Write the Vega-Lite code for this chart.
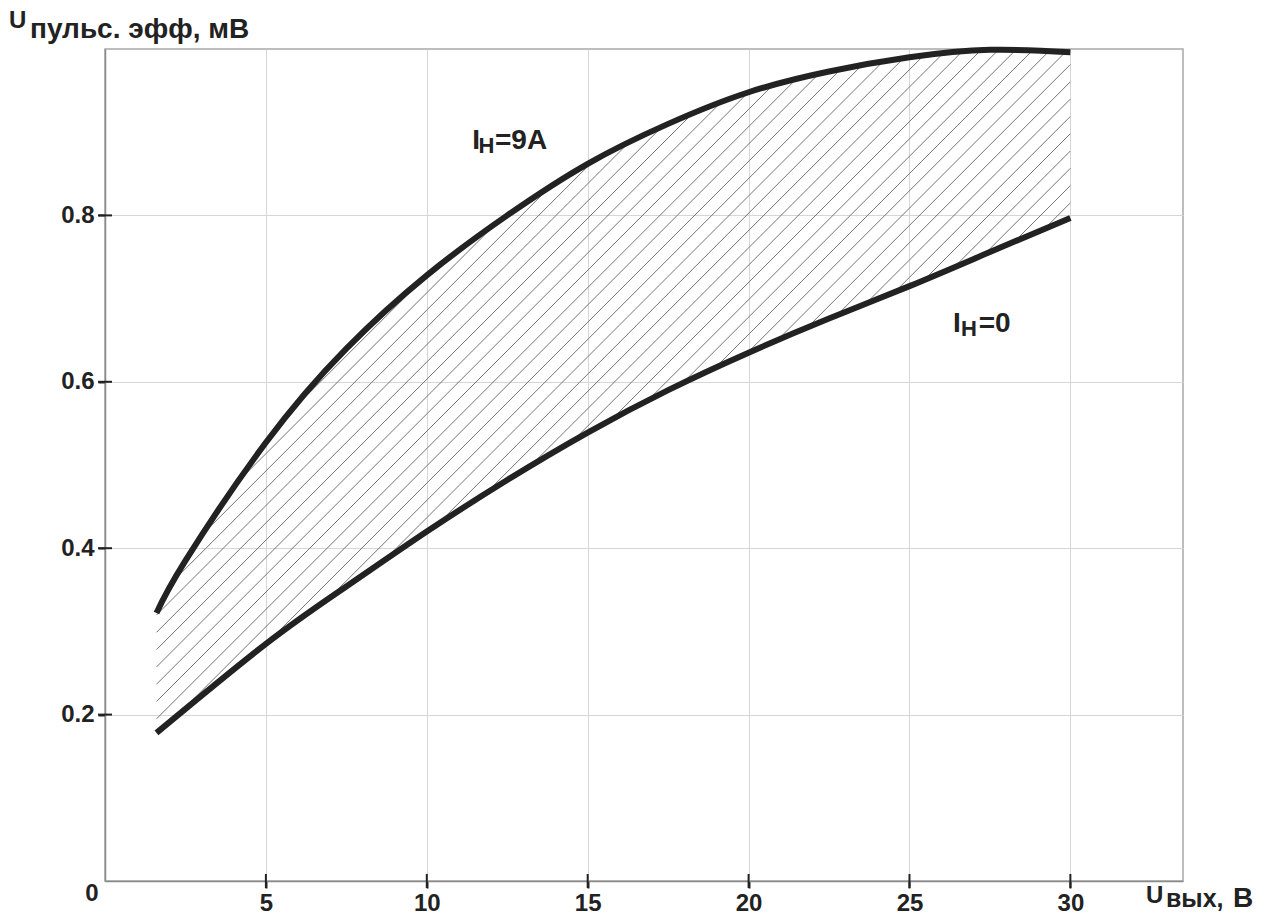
{
  "$schema": "https://vega.github.io/schema/vega-lite/v6.json",
  "autosize": {"type": "none"},
  "width": 1078,
  "height": 832,
  "padding": {"left": 105, "top": 49, "right": 92, "bottom": 39},
  "background": "white",
  "config": {
    "view": {"stroke": "#a8a8a8", "strokeWidth": 1.5},
    "font": "Liberation Sans",
    "text": {"font": "Liberation Sans", "fontWeight": "bold", "color": "#222222"}
  },
  "datasets": {
    "curves": [
      {"x": 1.6, "y": 0.322, "series": "Iн=9А"},
      {"x": 2.5, "y": 0.385, "series": "Iн=9А"},
      {"x": 5, "y": 0.527, "series": "Iн=9А"},
      {"x": 7.5, "y": 0.64, "series": "Iн=9А"},
      {"x": 10, "y": 0.728, "series": "Iн=9А"},
      {"x": 12.5, "y": 0.8, "series": "Iн=9А"},
      {"x": 15, "y": 0.862, "series": "Iн=9А"},
      {"x": 17.5, "y": 0.91, "series": "Iн=9А"},
      {"x": 20, "y": 0.948, "series": "Iн=9А"},
      {"x": 22.5, "y": 0.973, "series": "Iн=9А"},
      {"x": 25, "y": 0.99, "series": "Iн=9А"},
      {"x": 27.5, "y": 0.999, "series": "Iн=9А"},
      {"x": 30, "y": 0.996, "series": "Iн=9А"},
      {"x": 1.6, "y": 0.178, "series": "Iн=0"},
      {"x": 5, "y": 0.285, "series": "Iн=0"},
      {"x": 7.5, "y": 0.354, "series": "Iн=0"},
      {"x": 10, "y": 0.42, "series": "Iн=0"},
      {"x": 12.5, "y": 0.482, "series": "Iн=0"},
      {"x": 15, "y": 0.539, "series": "Iн=0"},
      {"x": 17.5, "y": 0.59, "series": "Iн=0"},
      {"x": 20, "y": 0.635, "series": "Iн=0"},
      {"x": 22.5, "y": 0.676, "series": "Iн=0"},
      {"x": 25, "y": 0.715, "series": "Iн=0"},
      {"x": 27.5, "y": 0.756, "series": "Iн=0"},
      {"x": 30, "y": 0.797, "series": "Iн=0"}
    ],
    "hatch": [
      {"x": 29.19, "y": 0.7837, "x2": 30, "y2": 0.815},
      {"x": 28.26, "y": 0.7685, "x2": 30, "y2": 0.8358},
      {"x": 27.33, "y": 0.7533, "x2": 30, "y2": 0.8566},
      {"x": 26.39, "y": 0.7378, "x2": 30, "y2": 0.8774},
      {"x": 25.46, "y": 0.7226, "x2": 30, "y2": 0.8982},
      {"x": 24.54, "y": 0.7078, "x2": 30, "y2": 0.919},
      {"x": 23.64, "y": 0.6938, "x2": 30, "y2": 0.9398},
      {"x": 22.74, "y": 0.6798, "x2": 30, "y2": 0.9606},
      {"x": 21.81, "y": 0.6646, "x2": 30, "y2": 0.9814},
      {"x": 20.88, "y": 0.6494, "x2": 29.85, "y2": 0.9964},
      {"x": 19.94, "y": 0.6339, "x2": 29.33, "y2": 0.9971},
      {"x": 18.94, "y": 0.616, "x2": 28.81, "y2": 0.9978},
      {"x": 17.93, "y": 0.5977, "x2": 28.3, "y2": 0.9988},
      {"x": 16.86, "y": 0.5772, "x2": 27.78, "y2": 0.9995},
      {"x": 15.75, "y": 0.555, "x2": 27.23, "y2": 0.9991},
      {"x": 14.56, "y": 0.5298, "x2": 26.63, "y2": 0.9967},
      {"x": 13.22, "y": 0.4988, "x2": 26.03, "y2": 0.9942},
      {"x": 11.8, "y": 0.4646, "x2": 25.43, "y2": 0.9918},
      {"x": 10.3, "y": 0.4274, "x2": 24.81, "y2": 0.9887},
      {"x": 8.65, "y": 0.3844, "x2": 24.16, "y2": 0.9843},
      {"x": 6.9, "y": 0.3375, "x2": 23.51, "y2": 0.98},
      {"x": 5.02, "y": 0.2856, "x2": 22.85, "y2": 0.9752},
      {"x": 2.13, "y": 0.1946, "x2": 22.17, "y2": 0.9697},
      {"x": 1.6, "y": 0.1949, "x2": 21.44, "y2": 0.9623},
      {"x": 1.6, "y": 0.2157, "x2": 20.72, "y2": 0.9553},
      {"x": 1.6, "y": 0.2365, "x2": 19.99, "y2": 0.9478},
      {"x": 1.6, "y": 0.2573, "x2": 19.11, "y2": 0.9346},
      {"x": 1.6, "y": 0.2781, "x2": 18.22, "y2": 0.921},
      {"x": 1.6, "y": 0.2989, "x2": 17.3, "y2": 0.9062},
      {"x": 1.6, "y": 0.3197, "x2": 16.23, "y2": 0.8856},
      {"x": 2.11, "y": 0.3602, "x2": 15.16, "y2": 0.865},
      {"x": 2.89, "y": 0.4112, "x2": 13.73, "y2": 0.8305},
      {"x": 4.17, "y": 0.4815, "x2": 12.13, "y2": 0.7894},
      {"x": 6.13, "y": 0.5781, "x2": 10.0, "y2": 0.7278}
    ],
    "xticks": [{"x": 5}, {"x": 10}, {"x": 15}, {"x": 20}, {"x": 25}, {"x": 30}],
    "yticks": [{"y": 0.2}, {"y": 0.4}, {"y": 0.6}, {"y": 0.8}],
    "labelsMain": [
      {"x": 11.41, "y": 0.88, "t": "I"},
      {"x": 12.12, "y": 0.88, "t": "=9A"},
      {"x": 26.35, "y": 0.66, "t": "I"},
      {"x": 27.15, "y": 0.66, "t": "=0"}
    ],
    "labelsSub": [
      {"x": 11.61, "y": 0.875, "t": "Н"},
      {"x": 26.6, "y": 0.655, "t": "Н"}
    ],
    "titleU": [{"k": "y"}],
    "titleUx": [{"k": "x"}]
  },
  "layer": [
    {
      "data": {"name": "hatch"},
      "mark": {"type": "rule", "color": "#747474", "strokeWidth": 1},
      "encoding": {
        "x": {
          "field": "x", "type": "quantitative",
          "scale": {"domain": [0, 33.5], "nice": false, "zero": false},
          "axis": {
            "values": [5, 10, 15, 20, 25, 30],
            "title": null,
            "grid": true, "gridColor": "#d6d6d6", "gridWidth": 1,
            "domainColor": "#8a8a8a", "domainWidth": 1.5,
            "tickColor": "#222222", "tickWidth": 2, "tickSize": 7,
            "labelFont": "Liberation Sans", "labelFontWeight": "bold", "labelFontSize": 24,
            "labelColor": "#222222", "labelPadding": 3
          }
        },
        "y": {
          "field": "y", "type": "quantitative",
          "scale": {"domain": [0, 1], "nice": false, "zero": false},
          "axis": {
            "values": [0, 0.2, 0.4, 0.6, 0.8],
            "labelExpr": "datum.value == 0 ? '0' : format(datum.value, '.1f')",
            "title": null,
            "grid": true, "gridColor": "#d6d6d6", "gridWidth": 1,
            "gridOpacity": {"condition": {"test": "datum.value == 0", "value": 0}, "value": 1},
            "domainColor": "#8a8a8a", "domainWidth": 1.5,
            "tickColor": "#222222", "tickWidth": 2, "tickSize": 7,
            "tickOpacity": {"condition": {"test": "datum.value == 0", "value": 0}, "value": 1},
            "labelOffset": {"condition": {"test": "datum.value == 0", "value": 12}, "value": 0},
            "labelPadding": {"condition": {"test": "datum.value == 0", "value": 0}, "value": 4},
            "labelFont": "Liberation Sans", "labelFontWeight": "bold", "labelFontSize": 24,
            "labelColor": "#222222"
          }
        },
        "x2": {"field": "x2"},
        "y2": {"field": "y2"}
      }
    },
    {
      "data": {"name": "curves"},
      "mark": {"type": "line", "color": "#222222", "strokeWidth": 6, "interpolate": "natural"},
      "encoding": {
        "x": {"field": "x", "type": "quantitative"},
        "y": {"field": "y", "type": "quantitative"},
        "detail": {"field": "series"}
      }
    },
    {
      "data": {"name": "xticks"},
      "mark": {"type": "tick", "orient": "vertical", "size": 14, "thickness": 2, "color": "#222222", "opacity": 1},
      "encoding": {
        "x": {"field": "x", "type": "quantitative"},
        "y": {"datum": 0, "type": "quantitative"}
      }
    },
    {
      "data": {"name": "yticks"},
      "mark": {"type": "tick", "orient": "horizontal", "size": 14, "thickness": 2, "color": "#222222", "opacity": 1},
      "encoding": {
        "y": {"field": "y", "type": "quantitative"},
        "x": {"datum": 0, "type": "quantitative"}
      }
    },
    {
      "data": {"name": "labelsMain"},
      "mark": {"type": "text", "fontSize": 28, "align": "left", "baseline": "alphabetic"},
      "encoding": {
        "x": {"field": "x", "type": "quantitative"},
        "y": {"field": "y", "type": "quantitative"},
        "text": {"field": "t"}
      }
    },
    {
      "data": {"name": "labelsSub"},
      "mark": {"type": "text", "fontSize": 22, "align": "left", "baseline": "alphabetic"},
      "encoding": {
        "x": {"field": "x", "type": "quantitative"},
        "y": {"field": "y", "type": "quantitative"},
        "text": {"field": "t"}
      }
    },
    {
      "data": {"name": "titleU"},
      "mark": {"type": "text", "align": "left", "baseline": "alphabetic", "dx": -96, "dy": -21, "text": "U"},
      "encoding": {"x": {"datum": 0, "type": "quantitative"}, "y": {"datum": 1, "type": "quantitative"}, "size": {"value": 24}}
    },
    {
      "data": {"name": "titleU"},
      "mark": {"type": "text", "fontSize": 28, "align": "left", "baseline": "alphabetic", "dx": -75, "dy": -11, "text": "пульс. эфф, мВ"},
      "encoding": {"x": {"datum": 0, "type": "quantitative"}, "y": {"datum": 1, "type": "quantitative"}}
    },
    {
      "data": {"name": "titleUx"},
      "mark": {"type": "text", "align": "left", "baseline": "alphabetic", "dx": -37, "dy": 22, "text": "U"},
      "encoding": {"x": {"datum": 33.5, "type": "quantitative"}, "y": {"datum": 0, "type": "quantitative"}, "size": {"value": 24}}
    },
    {
      "data": {"name": "titleUx"},
      "mark": {"type": "text", "fontSize": 25, "align": "left", "baseline": "alphabetic", "dx": -17, "dy": 26, "text": "вых,"},
      "encoding": {"x": {"datum": 33.5, "type": "quantitative"}, "y": {"datum": 0, "type": "quantitative"}}
    },
    {
      "data": {"name": "titleUx"},
      "mark": {"type": "text", "fontSize": 28, "align": "left", "baseline": "alphabetic", "dx": 50, "dy": 26, "text": "В"},
      "encoding": {"x": {"datum": 33.5, "type": "quantitative"}, "y": {"datum": 0, "type": "quantitative"}}
    }
  ]
}
